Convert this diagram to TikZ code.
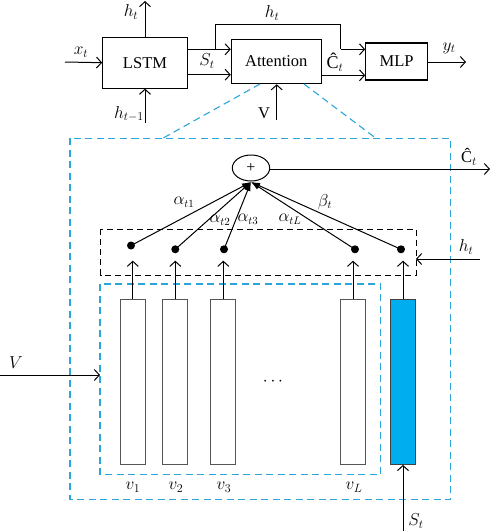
\documentclass[tikz,border=0pt]{standalone}
\usepackage{fontspec}
\setmainfont{Liberation Serif}
\usetikzlibrary{arrows.meta,shapes.geometric}
\definecolor{cyanline}{HTML}{2BA6DB}
\definecolor{barblue}{HTML}{00AEEF}
\definecolor{bargray}{HTML}{555555}
\tikzset{
  box/.style={draw, line width=1.1pt, inner sep=0pt, font=\fontsize{16.5}{19}\selectfont},
  arr/.style={line width=1pt, -{Straight Barb[length=5pt,width=11pt,line width=1pt]}},
  ln/.style={line width=1pt},
  fil/.style={line width=1pt, -{Latex[length=9pt,width=6pt]}},
  cyandash/.style={draw=cyanline, line width=1.1pt, dash pattern=on 7pt off 4.5pt},
  blackdash/.style={draw, line width=1pt, dash pattern=on 6pt off 4pt},
  bar/.style={draw=bargray, line width=1.2pt, minimum width=25pt, minimum height=165pt, inner sep=0pt},
  dot/.style={circle, fill, inner sep=0pt, minimum size=8pt},
  lab/.style={font=\fontsize{18}{21}\selectfont, inner sep=0pt},
  slab/.style={font=\fontsize{16}{19}\selectfont, inner sep=0pt},
}
\begin{document}
\begin{tikzpicture}[x=1pt,y=-1pt]
\useasboundingbox (0,0) rectangle (491,531);
% top row boxes
\node[box, minimum width=84.6pt, minimum height=50.7pt] (lstm) at (145,62.7) {LSTM};
\node[box, minimum width=90pt, minimum height=44.4pt] (att) at (276.3,61.5) {Attention};
\node[box, minimum width=62pt, minimum height=37pt] (mlp) at (396.7,61.5) {MLP};
% free ends
\coordinate (xin) at (65,62);
\coordinate (htop) at (145,1);
\coordinate (hbot) at (145,123);
\coordinate (yout) at (466,62);
\coordinate (vin) at (276.7,120);
\coordinate (br) at (215,49.3);
\coordinate (c1) at (215,24.3);
\coordinate (c2) at (340.7,24.3);
\coordinate (c3) at (340.7,49.3);
\draw[arr] (xin) -- (lstm.west);
\draw[arr] (lstm.north) -- (htop);
\draw[arr] (hbot) -- (lstm.south);
\draw[arr] (lstm.east |- br) -- (att.west |- br);
\draw[arr] (lstm.east |- 0,74.7) -- (att.west |- 0,74.7);
\draw[ln] (br) -- (c1) -- (c2) -- (c3);
\draw[arr] (c3) -- (mlp.west |- c3);
\draw[arr] (att.east |- 0,75.3) -- (mlp.west |- 0,75.3);
\draw[arr] (mlp.east |- yout) -- (yout);
\draw[arr] (vin) -- (att.south -| vin);
\node[lab] (lxt) at (81,52) {$x_t$};
\node[lab] (lht) at (131,12) {$h_t$};
\node[lab] (lhtm) at (129,114) {$h_{t-1}$};
\node[lab] (lst) at (207,61) {$S_t$};
\node[lab] (lht2) at (272,13) {$h_t$};
\node[lab] (lct) at (335,62) {Ĉ$_t$};
\node[lab] (lyt) at (449,48) {$y_t$};
\node[lab, font=\fontsize{16.5}{19}\selectfont] (lv) at (264,113) {V};
% zoom-in outline
\coordinate (z1) at (260,84);
\coordinate (z2) at (162.7,138.3);
\coordinate (z3) at (304,84);
\coordinate (z4) at (376,138.3);
\draw[cyandash] (z1) -- (z2);
\draw[cyandash] (z3) -- (z4);
\draw[cyandash] (70,138.3) rectangle (450.5,499.3);
% inner parts
\draw[cyandash] (100,284) rectangle (380.7,474.3);
\draw[blackdash] (100.7,229.3) rectangle (416,275);
\node[draw, ellipse, line width=1pt, minimum width=37.4pt, minimum height=26pt, inner sep=0pt, font=\fontsize{16}{18}\selectfont] (plus) at (251,168) {+};
\coordinate (conv) at (251,182);
\coordinate (cout) at (490,169);
\draw[arr] (plus.east |- cout) -- (cout);
\node[lab, font=\fontsize{16.5}{19}\selectfont] (lco) at (469,157) {Ĉ$_t$};
% bars
\node[bar] (v1) at (132.8,381.8) {};
\node[bar] (v2) at (175.3,381.8) {};
\node[bar] (v3) at (223.3,381.8) {};
\node[bar] (vL) at (353,381.8) {};
\node[bar, draw=black!75, fill=barblue] (sb) at (403,381.8) {};
% dots
\node[dot] (d1) at (131,245.5) {};
\node[dot] (d2) at (175.3,249.3) {};
\node[dot] (d3) at (224,249.3) {};
\node[dot] (dL) at (355,249.3) {};
\node[dot] (db) at (401,249.3) {};
\foreach \b in {v1,v2,v3,vL,sb}{
  \draw[arr] (\b.north) -- ++(0,-38);
}
\foreach \d in {d1,d2,d3,dL,db}{
  \draw[fil] (\d.center) -- (conv);
}
\node[slab] (a1) at (184,202) {$\alpha_{t1}$};
\node[slab] (a2) at (220,220) {$\alpha_{t2}$};
\node[slab] (a3) at (248,219) {$\alpha_{t3}$};
\node[slab] (aL) at (290,219) {$\alpha_{tL}$};
\node[slab] (bt) at (325,202) {$\beta_t$};
% h_t into dashed box
\coordinate (hin) at (480,259);
\draw[arr] (hin) -- (416,259);
\node[lab] (lh3) at (466,247) {$h_t$};
% V into inner box
\coordinate (vleft) at (0,375);
\draw[arr] (vleft) -- (100,375);
\node[lab] (lV) at (16,363) {$V$};
% S_t into blue bar
\coordinate (sin) at (403,531);
\draw[arr] (sin) -- (sb.south);
\node[lab] (lS) at (416,521) {$S_t$};
% labels
\node[lab] (lv1) at (133,487) {$v_1$};
\node[lab] (lv2) at (176,487) {$v_2$};
\node[lab] (lv3) at (224,487) {$v_3$};
\node[lab] (lvL) at (354,487) {$v_L$};
\node[lab] (dots) at (273,382) {$\cdots$};
\end{tikzpicture}
\end{document}
